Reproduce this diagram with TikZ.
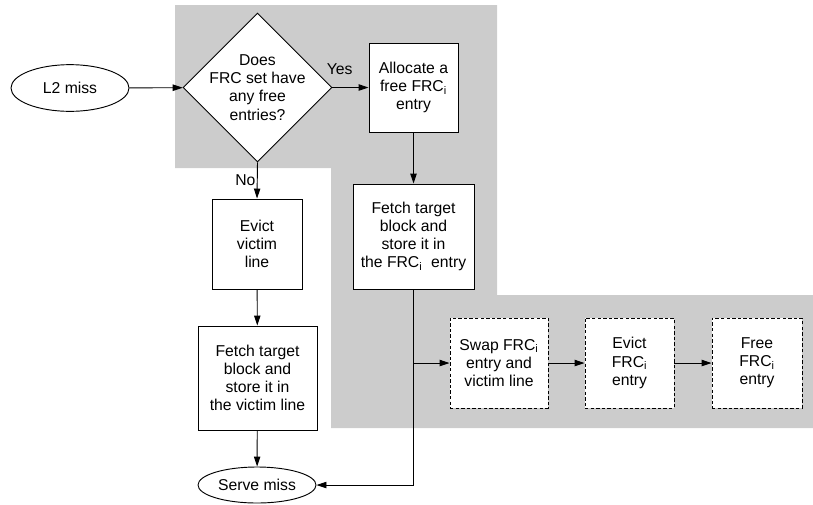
\documentclass[tikz,border=0pt]{standalone}
\usepackage{fontspec}
\setmainfont{Liberation Sans}
\usetikzlibrary{shapes.geometric,arrows.meta}
\definecolor{areagrey}{HTML}{CCCCCC}
\tikzset{
  every node/.style={font=\fontsize{11.8}{13.6}\selectfont,align=center,inner sep=1pt},
  procbox/.style={draw,fill=white,line width=0.7pt},
  dashbox/.style={draw,fill=white,line width=0.7pt,dash pattern=on 2.6pt off 1.6pt},
  termnode/.style={draw,fill=white,ellipse,line width=0.7pt},
  decision/.style={draw,fill=white,diamond,line width=0.7pt,inner sep=-20pt,minimum width=111.75pt,minimum height=111.75pt},
  flow/.style={line width=0.7pt,-{Triangle[length=7.5pt,width=4.8pt]}},
}
\begin{document}
\begin{tikzpicture}[x=0.75pt,y=-0.75pt]
      \useasboundingbox (0,0) rectangle (813,504);
      % shaded regions
      \fill[areagrey](175,5)--(497,5)--(497,295)--(813,295)--(813,428)--(331,428)--(331,168)--(175,168)--cycle;
      % nodes
      \node[termnode,minimum width=88.5pt,minimum height=35pt](l2)at(70,88){L2 miss};
      \node[decision](dec)at(257.5,87.5){Does\\FRC set have\\any free\\entries?};
      \node[procbox,minimum width=66.75pt,minimum height=66.75pt](alloc)at(413.5,87.5){Allocate a\\free FRC\textsubscript{i}\\entry};
      \node[procbox,minimum width=90.75pt,minimum height=78.75pt](fetchfrc)at(413.5,236.5){Fetch target\\block and\\store it in\\the FRC\textsubscript{i}\ \ entry};
      \node[procbox,minimum width=67.5pt,minimum height=67.5pt](evict)at(257,244){Evict\\victim\\line};
      \node[procbox,minimum width=89.25pt,minimum height=78pt](fetchvic)at(257.5,378){Fetch target\\block and\\store it in\\the victim line};
      \node[termnode,minimum width=88.5pt,minimum height=27pt](serve)at(257,485){Serve miss};
      \node[dashbox,minimum width=73.5pt,minimum height=67.5pt](swap)at(499,363){Swap FRC\textsubscript{i}\\entry and\\victim line};
      \node[dashbox,minimum width=66.75pt,minimum height=67.5pt](evictfrc)at(629.5,363){Evict\\FRC\textsubscript{i}\\entry};
      \node[dashbox,minimum width=67.5pt,minimum height=67.5pt](free)at(757,363){Free\\FRC\textsubscript{i}\\entry};
      % connectors
      \draw[flow](l2)--(dec);
      \draw[flow](dec.east)--node[above,pos=0.2,yshift=8pt]{Yes}(alloc.west);
      \draw[flow](dec.south)--node[left,pos=0.5]{No}(evict.north);
      \draw[flow](alloc)--(fetchfrc);
      \draw[flow](evict)--(fetchvic);
      \draw[flow](fetchvic)--(serve);
      \draw[flow](fetchfrc.south)--(fetchfrc.south|-serve)--(serve.east);
      \draw[flow](fetchfrc.south|-swap.west)--(swap.west);
      \draw[flow](swap)--(evictfrc);
      \draw[flow](evictfrc)--(free);
\end{tikzpicture}
\end{document}
